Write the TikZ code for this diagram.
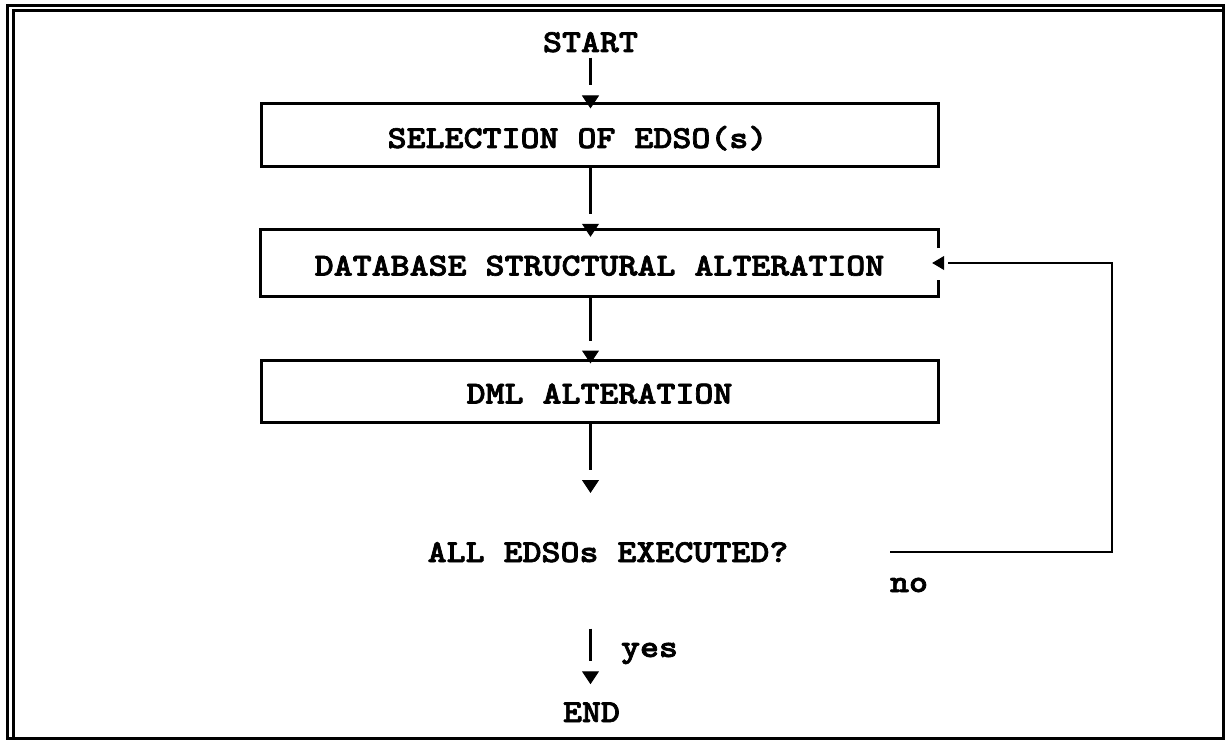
\documentclass[tikz,border=0pt]{standalone}
\usepackage{graphicx}
\usepackage{fontspec}
\newfontfamily\cour{lmmonolt10-bold.otf}[FakeBold=2]
\usetikzlibrary{arrows.meta,calc}
\newcommand\cw[1]{\scalebox{1.13}[1]{#1}}
\begin{document}
\begin{tikzpicture}[x=1pt,y=-1pt,
  txt/.style={font=\cour\fontsize{32}{36}\selectfont, inner sep=0pt},
  stepbox/.style={txt, minimum width=677pt, text height=25pt, text depth=0pt},
  boxline/.style={line width=3pt},
  connline/.style={line width=2.8pt, shorten >=23pt},
  conntip/.style={line width=1pt, -{Triangle[width=17pt,length=13pt]}},
  loopline/.style={line width=2.5pt, line join=miter, shorten >=16pt},
  looptip/.style={line width=1pt, -{Triangle[width=14pt,length=12pt]}},
  frameline/.style={line width=3pt}]
\useasboundingbox (0,0) rectangle (1227,741);
% outer frame
\draw[frameline] (7.5,5.5) rectangle (1223.5,738.5);
\draw[frameline, line width=2.7pt] (13.5,738.5) -- (13.5,10.5) -- (1223.5,10.5);

% nodes
\node[txt, anchor=base] (start) at (590.5,52) {\cw{START}};
\node[stepbox, draw, boxline, minimum height=63pt] (sel) at (599.5,135.5) {\cw{SELECTION OF EDSO(s)}\hspace*{44pt}};
\node[stepbox, minimum height=66pt] (db) at (599.5,263) {\cw{DATABASE STRUCTURAL ALTERATION}};
\draw[boxline] ($(db.east)+(0,-15)$) -- (db.north east) -- (db.north west) -- (db.south west) -- (db.south east) -- ($(db.east)+(0,17)$);
\node[stepbox, draw, boxline, minimum height=62pt] (dml) at (599.5,391) {\cw{DML ALTERATION}};
\node[txt, anchor=base] (dec) at (608,562) {\cw{ALL EDSOs EXECUTED?}};
\node[txt, anchor=base] (no) at (909,592) {\cw{no}};
\node[txt, anchor=base] (yes) at (649.5,657) {\cw{yes}};
\node[txt, anchor=base] (end) at (591.5,722) {\cw{END}};

% arrow tip ends
\coordinate (t1) at ($(sel.north -| start)+(0,6)$);
\coordinate (t2) at ($(db.north -| start)+(0,7)$);
\coordinate (t3) at ($(dml.north -| start)+(0,5)$);
\coordinate (t4) at (start |- 0,493);
\coordinate (t5) at ($(end.north -| start)+(0,-18)$);
\coordinate (t6) at ($(db.east)+(-6,0)$);

% connectors
\draw[connline, shorten <=5pt] (start.south) -- (t1);
\draw[conntip] ($(t1)+(0,-2)$) -- (t1);
\draw[connline] (sel.south -| start) -- (t2);
\draw[conntip] ($(t2)+(0,-2)$) -- (t2);
\draw[connline] (db.south -| start) -- (t3);
\draw[conntip] ($(t3)+(0,-2)$) -- (t3);
\draw[connline] (dml.south -| start) -- (t4);
\draw[conntip] ($(t4)+(0,-2)$) -- (t4);
\draw[connline, shorten <=66pt] (dec.south -| start) -- (t5);
\draw[conntip] ($(t5)+(0,-2)$) -- (t5);

\coordinate (loopstart) at (890,552);
\coordinate (corner) at (1112,263);
\draw[loopline] (loopstart) -| (corner) -- (t6);
\draw[looptip] ($(t6)+(2,0)$) -- (t6);
\end{tikzpicture}
\end{document}
